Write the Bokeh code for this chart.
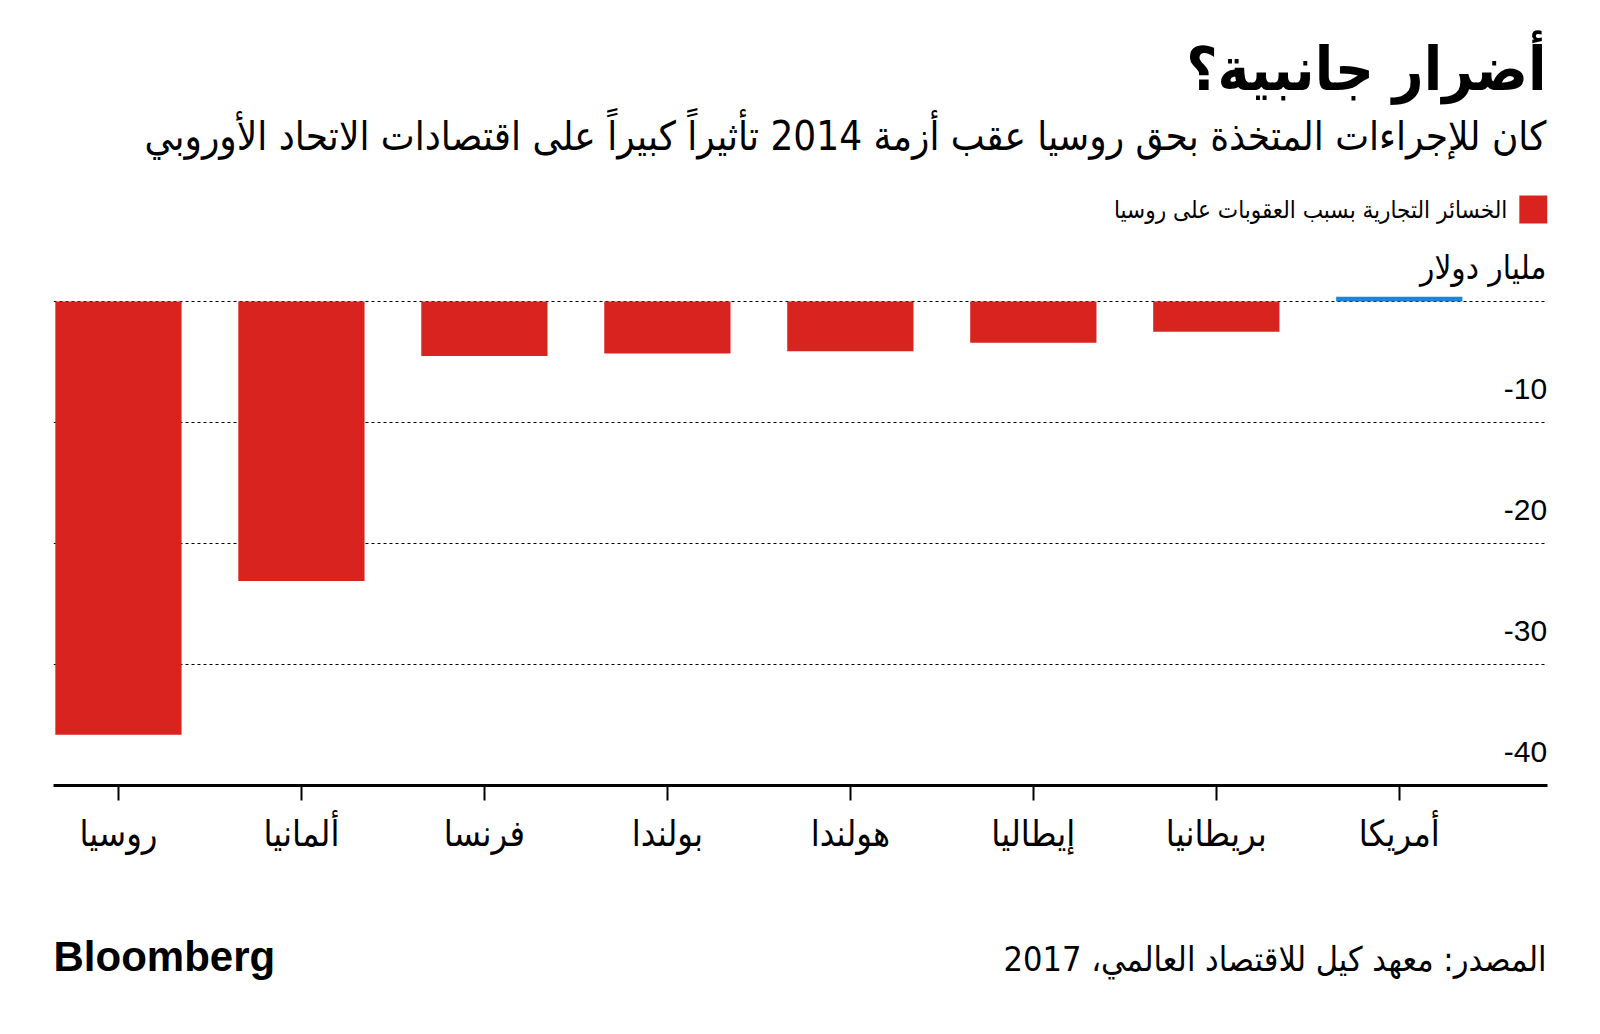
from bokeh.plotting import figure
from bokeh.layouts import column
from bokeh.models import FixedTicker, ColumnDataSource, Range1d
from bokeh.core.properties import value
from bokeh.embed import file_html
from bokeh.resources import INLINE

# ---- data ----
countries = ["روسيا", "ألمانيا", "فرنسا", "بولندا", "هولندا", "إيطاليا", "بريطانيا", "أمريكا"]
losses = [-35.8, -23.1, -4.5, -4.3, -4.1, -3.4, -2.5, 0.4]
y_ticks = [0, -10, -20, -30, -40]
y_tick_labels = ["", "-10", "-20", "-30", "-40"]

title_text = "أضرار جانبية؟"
subtitle_text = "كان للإجراءات المتخذة بحق روسيا عقب أزمة 2014 تأثيراً كبيراً على اقتصادات الاتحاد الأوروبي"
legend_text = "الخسائر التجارية بسبب العقوبات على روسيا"
unit_text = "مليار دولار"
source_text = "المصدر: معهد كيل للاقتصاد العالمي، 2017"
brand_text = "Bloomberg"

# ---- styles ----
RED = "#d9231e"
BLUE = "#1f84d6"
AR_FONT = "DejaVu Sans Condensed"
NUM_FONT = "Liberation Sans"

X0, X1 = -0.355, 7.81
Y0, Y1 = -40, 24.88

xs = list(range(len(countries)))
src = ColumnDataSource(dict(
    x=xs,
    v=losses,
    color=[BLUE if v > 0 else RED for v in losses],
))

p = figure(width=1600, height=900, x_range=Range1d(X0, X1), y_range=Range1d(Y0, Y1),
           output_backend="svg", toolbar_location=None, y_axis_location=None,
           min_border_left=53, min_border_right=53, min_border_top=0, min_border_bottom=115)
p.outline_line_color = None
p.background_fill_color = "white"
p.border_fill_color = "white"

# grid
p.xgrid.visible = False
p.ygrid.ticker = FixedTicker(ticks=y_ticks)
p.ygrid.grid_line_color = "black"
p.ygrid.grid_line_dash = "3 3"
p.ygrid.grid_line_width = 1

# bars
p.vbar(x="x", top="v", bottom=0, width=0.69, fill_color="color", line_color=None, source=src)

# x axis
ax = p.xaxis[0]
ax.ticker = FixedTicker(ticks=xs)
ax.major_label_overrides = {i: c for i, c in enumerate(countries)}
ax.axis_line_width = 3
ax.axis_line_color = "black"
ax.major_tick_out = 15
ax.major_tick_in = 0
ax.major_tick_line_width = 2
ax.major_tick_line_color = "black"
ax.minor_tick_line_color = None
ax.major_label_standoff = 12
ax.major_label_text_font = AR_FONT
ax.major_label_text_font_size = "36px"
ax.major_label_text_color = "black"

# y tick labels (drawn inside, above gridlines, right-aligned)
ysrc = ColumnDataSource(dict(y=y_ticks, t=y_tick_labels, x=[X1 - 0.002] * len(y_ticks)))
p.text(x="x", y="y", text="t", source=ysrc, text_align="right", text_baseline="alphabetic",
       y_offset=-34, text_font=value(NUM_FONT), text_font_size="30px", text_color="black")

# header texts
XR = X1 - 0.006
p.text(x=[XR], y=[19.25], text=[title_text], text_align="right", text_baseline="middle",
       text_font=value(AR_FONT), text_font_size="60px", text_font_style="bold", text_color="black")
p.text(x=[XR], y=[13.7], text=[subtitle_text], text_align="right", text_baseline="middle",
       text_font=value(AR_FONT), text_font_size="40px", text_color="black")

# legend
p.quad(left=[7.656], right=[7.81], top=[8.76], bottom=[6.45], fill_color=RED, line_color=None)
p.text(x=[7.59], y=[7.6], text=[legend_text], text_align="right", text_baseline="middle",
       text_font=value(AR_FONT), text_font_size="24px", text_color="black")

# unit label
p.text(x=[XR], y=[2.8], text=[unit_text], text_align="right", text_baseline="middle",
       text_font=value(AR_FONT), text_font_size="33px", text_color="black")

# footer (its frame is aligned with the main plot frame: page x 53..1547)
f = figure(width=1600, height=134, x_range=Range1d(53, 1547), y_range=Range1d(0, 134),
           output_backend="svg", toolbar_location=None, x_axis_location=None, y_axis_location=None,
           min_border_left=53, min_border_right=53, min_border_top=0, min_border_bottom=0)
f.outline_line_color = None
f.xgrid.visible = False
f.ygrid.visible = False
f.text(x=[53], y=[78], text=[brand_text], text_align="left", text_baseline="middle",
       text_font=value(NUM_FONT), text_font_size="42px", text_font_style="bold", text_color="black")
f.text(x=[1546], y=[76], text=[source_text], text_align="right", text_baseline="middle",
       text_font=value(AR_FONT), text_font_size="34px", text_color="black")

layout = column(p, f, spacing=0)
open("out.html", "w").write(file_html(layout, INLINE))
